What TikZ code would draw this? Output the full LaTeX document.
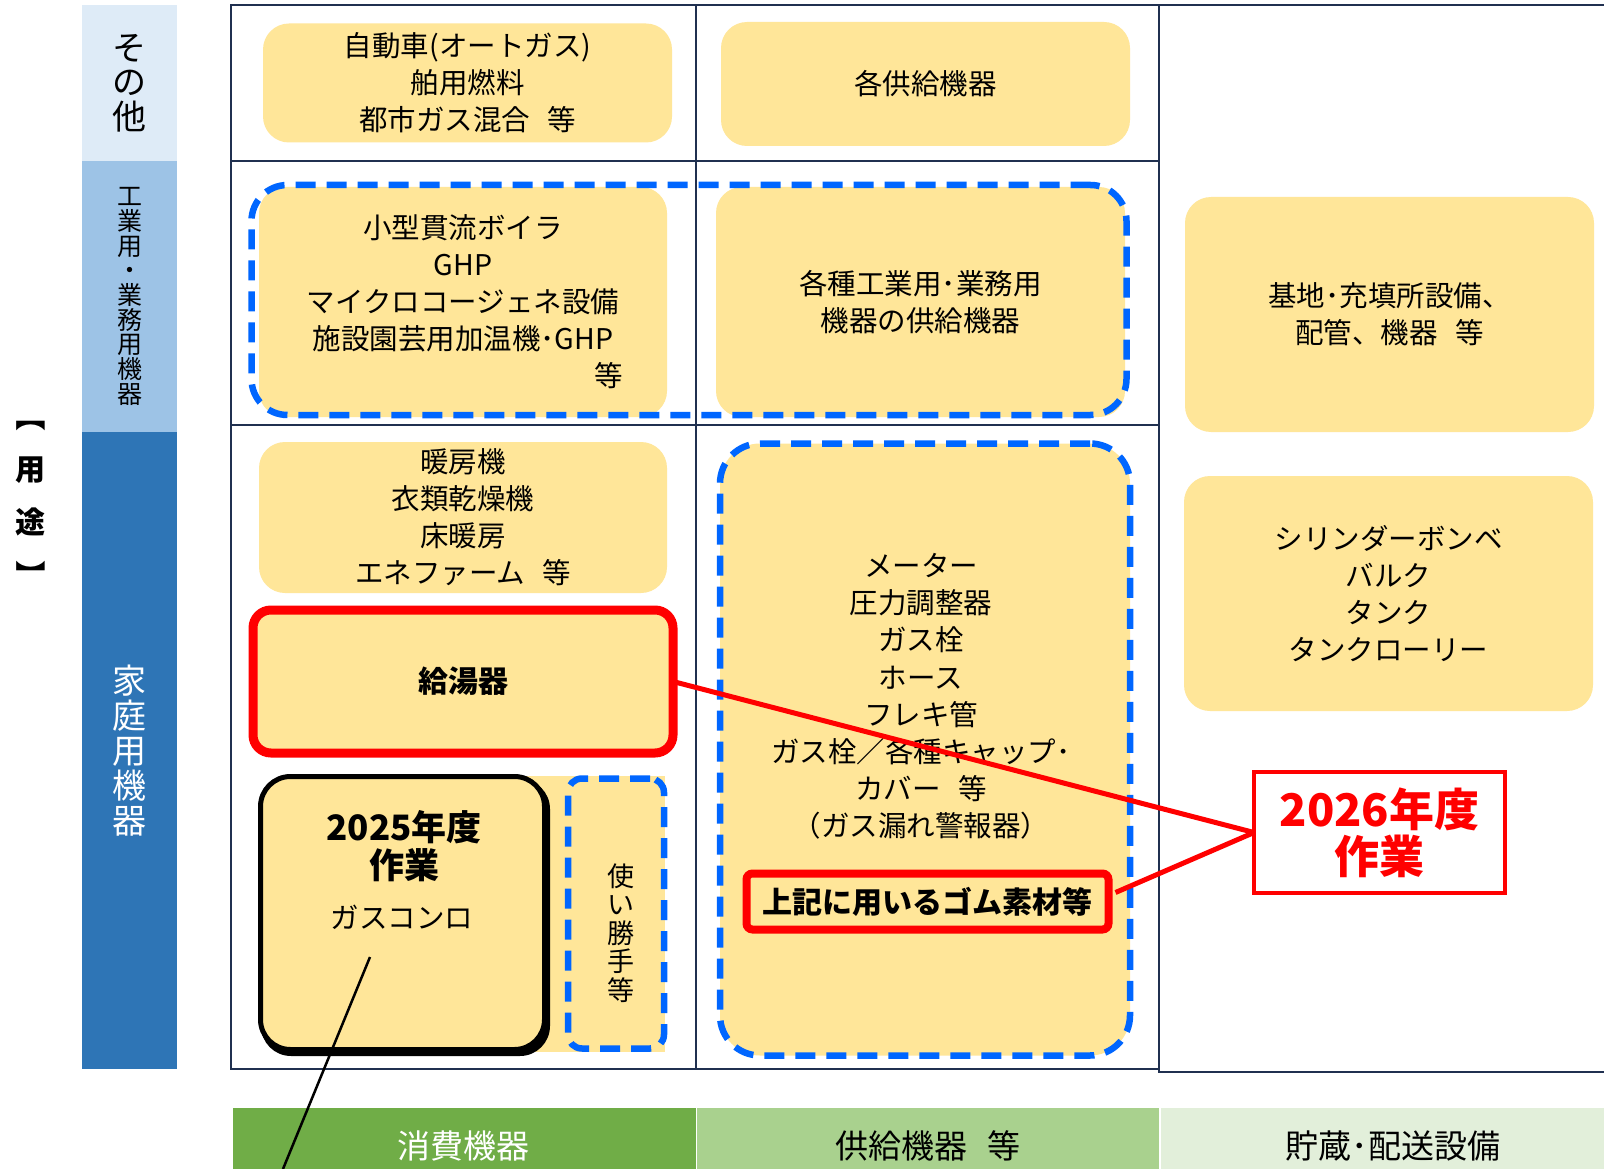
\documentclass[tikz,border=0pt]{standalone}
\usepackage{fontspec}
\usepackage{graphicx}
\setmainfont{Noto Sans CJK JP}
\definecolor{yel}{RGB}{255,230,153}
\definecolor{navy}{RGB}{32,48,80}
\definecolor{bluedash}{RGB}{0,102,255}
\definecolor{lbA}{RGB}{222,235,247}
\definecolor{lbB}{RGB}{157,195,230}
\definecolor{lbC}{RGB}{46,117,182}
\definecolor{gA}{RGB}{112,173,71}
\definecolor{gB}{RGB}{169,209,142}
\definecolor{gC}{RGB}{226,239,218}
\definecolor{redc}{RGB}{255,0,0}
\newcommand\myfs[2]{\fontsize{#1}{#2}\selectfont}
\newcommand\gapsp{\hspace{0.6em}}
\begin{document}
\begin{tikzpicture}[x=1pt,y=-1pt,
  every node/.style={inner sep=0pt,outer sep=0pt},
  grid/.style={draw=navy,line width=2.5pt},
  ybox/.style={fill=yel,rounded corners=26pt,align=center,font=\myfs{28.5}{37}},
  bdash/.style={draw=bluedash,line width=6.5pt,dash pattern=on 20pt off 11pt},
  redline/.style={draw=redc,line width=5pt},
  lab/.style={align=center},
]
\useasboundingbox (0,0) rectangle (1604,1169);
\fill[white] (0,0) rectangle (1604,1169);

% left category column
\node[fill=lbA,minimum width=95pt,minimum height=156pt,lab,font=\myfs{34}{34.5}] (lA) at (129.5,83) {そ\\の\\他};
\node[fill=lbB,minimum width=95pt,minimum height=271pt,lab,font=\myfs{25}{24.7}] (lB) at (129.5,296.5) {工\\業\\用\\・\\業\\務\\用\\機\\器};
\node[fill=lbC,minimum width=95pt,minimum height=637pt,lab,text=white,font=\myfs{34}{35}] (lC) at (129.5,750.5) {家\\庭\\用\\機\\器};
\node[lab,font=\bfseries\myfs{30}{53}] (yoto) at (31,496) {\rotatebox[origin=c]{-90}{【}\\用\\途\\\rotatebox[origin=c]{-90}{】}};

% bottom category row
\node[fill=gA,minimum width=463pt,minimum height=61pt] (bA) at (464.5,1138.5) {};
\node[fill=gB,minimum width=462pt,minimum height=61pt] (bB) at (928,1138.5) {};
\node[fill=gC,minimum width=443pt,minimum height=61pt] (bC) at (1382.5,1138.5) {};
\node[text=white,font=\myfs{33}{33}] (bAt) at (463,1146) {消費機器};
\node[font=\myfs{33}{33}] (bBt) at (928,1146) {供給機器\gapsp 等};
\node[font=\myfs{33}{33}] (bCt) at (1393,1146) {貯蔵･配送設備};

% grid
\draw[grid] (231,5) rectangle (696,161);
\draw[grid] (696,5) rectangle (1159,161);
\draw[grid] (231,161) rectangle (696,425);
\draw[grid] (696,161) rectangle (1159,425);
\draw[grid] (231,425) rectangle (696,1069);
\draw[grid] (696,425) rectangle (1159,1069);
\draw[grid] (1604,5) -- (1159,5) -- (1159,1072) -- (1604,1072);

% boxes
\node[ybox,minimum width=409pt,minimum height=119pt] (A) at (467.5,83) {自動車(オートガス)\\舶用燃料\\都市ガス混合\gapsp 等};
\node[ybox,minimum width=409pt,minimum height=124pt] (B) at (925.5,84) {各供給機器};
\node[ybox,minimum width=408pt,minimum height=230pt,text width=320pt] (C) at (463,302) {小型貫流ボイラ\\GHP\\マイクロコージェネ設備\\施設園芸用加温機･GHP\\\hspace*{\fill}等};
\node[ybox,minimum width=409pt,minimum height=230pt] (D) at (920.5,302) {各種工業用･業務用\\機器の供給機器};
\node[ybox,minimum width=409pt,minimum height=235pt] (E) at (1389.5,314.5) {基地･充填所設備、\\配管、機器\gapsp 等};
\node[ybox,minimum width=408pt,minimum height=151pt] (F) at (463,517.5) {暖房機\\衣類乾燥機\\床暖房\\エネファーム\gapsp 等};
\node[ybox,draw=redc,line width=9pt,rounded corners=18pt,minimum width=420pt,minimum height=143pt,font=\bfseries\myfs{30}{37}] (G) at (463,681.5) {給湯器};

\fill[yel] (300,776) rectangle (665,1052);
\fill[black,rounded corners=30pt] (261,779) rectangle (550,1056);
\node[ybox,draw=black,line width=5pt,rounded corners=30pt,minimum width=284pt,minimum height=273pt] (H) at (402.5,913) {};
\node[align=center,font=\bfseries\myfs{35}{38}] (Ht) at (404,846) {2025年度\\作業};
\node[font=\myfs{28.5}{37}] (Hg) at (402,917) {ガスコンロ};

\node[ybox,bdash,rounded corners=14pt,minimum width=96pt,minimum height=270pt] (I) at (616,913.5) {};
\node[align=center,font=\myfs{27}{28.6}] (It) at (621,933) {使\\い\\勝\\手\\等};

\node[ybox,bdash,rounded corners=40pt,minimum width=410pt,minimum height=612pt] (J) at (925,749.5) {};
\node[align=center,font=\myfs{28.5}{37.2}] (Jt) at (921,696.5) {メーター\\圧力調整器\\ガス栓\\ホース\\フレキ管\\ガス栓／各種キャップ･\\カバー\gapsp 等\\（ガス漏れ警報器）};
\node[ybox,draw=redc,line width=8pt,rounded corners=6pt,minimum width=362pt,minimum height=56pt,font=\bfseries\myfs{30}{30}] (K) at (927.5,901.5) {上記に用いるゴム素材等};

\node[ybox,minimum width=409pt,minimum height=235pt] (L) at (1388.5,593.5) {シリンダーボンベ\\バルク\\タンク\\タンクローリー};
\node[fill=white,draw=redc,line width=4pt,minimum width=251pt,minimum height=121pt,align=center,text=redc,font=\bfseries\myfs{45}{47}] (M) at (1379.5,832.5) {2026年度\\作業};

% dashed group around C and D
\node[bdash,rounded corners=36pt,minimum width=875pt,minimum height=230pt] (CD) at (689,300) {};

% connectors
\draw[redline] (G.east) -- (M.west);
\draw[redline] ([shift={(7,-9)}]K.east) -- (M.west);
\coordinate (p1) at (370,957);
\coordinate (p2) at (283,1169);
\draw[line width=2.5pt] (p1) -- (p2);
\end{tikzpicture}
\end{document}
